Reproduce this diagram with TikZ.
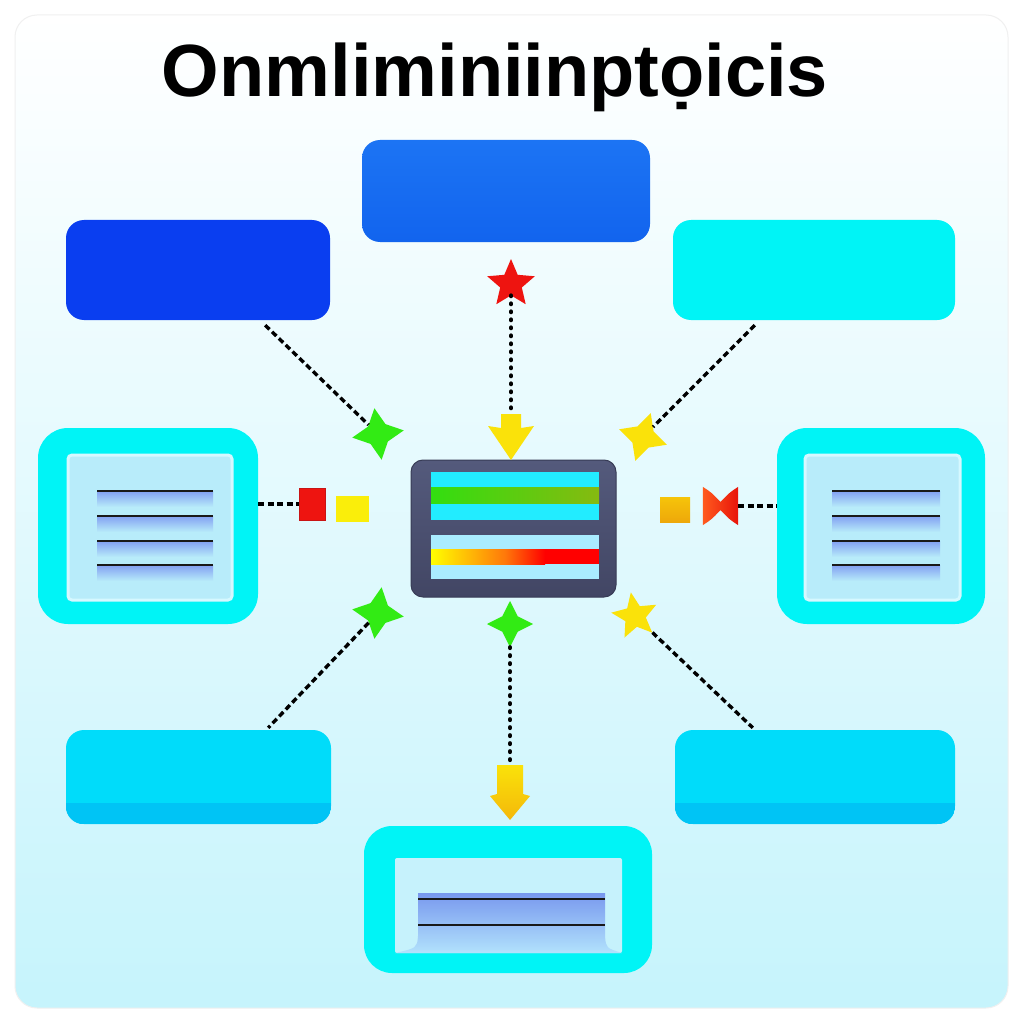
\documentclass[tikz,border=0pt]{standalone}
\usepackage{fontspec}
\setmainfont{Liberation Sans}
\usetikzlibrary{shapes.geometric,calc}

\definecolor{cyanA}{RGB}{0,244,246}
\definecolor{deepblue}{RGB}{10,62,240}
\definecolor{midblueT}{RGB}{28,116,244}
\definecolor{midblueB}{RGB}{18,100,238}
\definecolor{skyA}{RGB}{0,220,250}
\definecolor{skyB}{RGB}{0,196,245}
\definecolor{panel}{RGB}{184,236,250}
\definecolor{panelrim}{RGB}{214,248,255}
\definecolor{slotpanel}{RGB}{198,242,252}
\definecolor{slotT}{RGB}{120,152,238}
\definecolor{slotB}{RGB}{178,226,252}
\definecolor{slateT}{RGB}{84,90,124}
\definecolor{slateB}{RGB}{66,70,100}
\definecolor{slateD}{RGB}{56,60,86}
\definecolor{barcyan}{RGB}{34,236,255}
\definecolor{barlight}{RGB}{170,236,255}
\definecolor{barG}{RGB}{50,222,16}
\definecolor{barO}{RGB}{134,186,16}
\definecolor{barorange}{RGB}{255,120,10}
\definecolor{bgmid}{RGB}{244,252,254}
\definecolor{bgbot}{RGB}{198,244,252}
\definecolor{greenS}{RGB}{50,235,20}
\definecolor{yellowS}{RGB}{250,226,10}
\definecolor{yellowQ}{RGB}{250,238,10}
\definecolor{redS}{RGB}{238,20,16}
\definecolor{redD}{RGB}{200,20,20}
\definecolor{orangeS}{RGB}{244,184,10}
\definecolor{orangeT}{RGB}{246,196,10}
\definecolor{orangeB}{RGB}{238,168,10}
\definecolor{bowL}{RGB}{255,90,30}
\definecolor{bowR}{RGB}{232,20,10}
\definecolor{groove}{RGB}{130,160,242}

\tikzset{
  bigbox/.style={rounded corners=18pt, inner sep=0pt},
  frame/.style={rounded corners=30pt, fill=cyanA, inner sep=0pt},
  panelbox/.style={rounded corners=4pt, fill=panel, draw=panelrim, line width=3pt, inner sep=0pt},
  connector/.style={black, line width=3.4pt, dash pattern=on 6pt off 3.5pt},
  dotline/.style={black, line width=4.6pt, line cap=round, dash pattern=on 0.4pt off 7.6pt},
  fourstar/.style={star, star points=4, star point ratio=2.1, inner sep=0pt, minimum size=#1},
  fivestar/.style={star, star points=5, star point ratio=2.2, inner sep=0pt, minimum size=#1},
  chip/.style={inner sep=0pt}
}

\begin{document}
\begin{tikzpicture}[x=1pt,y=-1pt]
\useasboundingbox (0,0) rectangle (1024,1024);

% page and panel background
\fill[white] (0,0) rectangle (1024,1024);
\shade[rounded corners=22pt, top color=white, middle color=bgmid, bottom color=bgbot] (15,15) rectangle (1008,1008);
\draw[rounded corners=22pt, line width=1pt, gray!12] (15,15) rectangle (1008,1008);

% title
\node[font=\fontsize{74}{82}\selectfont\bfseries, anchor=base, inner sep=0pt] (title) at (495,97) {Onmliminiinptọicis};

% top row boxes
\node[bigbox, top color=midblueT, bottom color=midblueB, minimum width=288pt, minimum height=102pt] (tc) at (506,191) {};
\node[bigbox, fill=deepblue, minimum width=264pt, minimum height=100pt] (tl) at (198,270) {};
\node[bigbox, fill=cyanA, minimum width=282pt, minimum height=100pt] (tr) at (814,270) {};

% bottom row boxes with a darker lower strip
\node[bigbox, fill=skyA, minimum width=265pt, minimum height=94pt] (bl) at (198.5,777) {};
\node[bigbox, fill=skyA, minimum width=280pt, minimum height=94pt] (br) at (815,777) {};
\foreach \b in {bl,br}{
  \begin{scope}
    \clip[rounded corners=18pt] (\b.south west) rectangle (\b.north east);
    \fill[skyB] ($(\b.south west)+(0,-21)$) rectangle (\b.south east);
  \end{scope}
}

% side frames with lined panels
\node[frame, minimum width=220pt, minimum height=196pt] (lm) at (148,526) {};
\node[panelbox, minimum width=164pt, minimum height=145pt] (lp) at (150,527.5) {};
\node[frame, minimum width=208pt, minimum height=196pt] (rm) at (881,526) {};
\node[panelbox, minimum width=155pt, minimum height=145pt] (rp) at (882.5,527.5) {};
\foreach \y in {491,516,541,565}{
  \shade[top color=groove, bottom color=panel] (97,\y) rectangle (213,\y+16);
  \draw[line width=2.6pt, black!90] (97,\y) -- (213,\y);
  \shade[top color=groove, bottom color=panel] (832,\y) rectangle (940,\y+16);
  \draw[line width=2.6pt, black!90] (832,\y) -- (940,\y);
}

% bottom centre frame with recessed slot
\node[frame, rounded corners=28pt, minimum width=288pt, minimum height=147pt] (bc) at (508,899.5) {};
\node[panelbox, rounded corners=2pt, fill=slotpanel, draw=none,
  minimum width=227pt, minimum height=95pt] (bp) at (508.5,905.5) {};
\shade[top color=slotT, bottom color=slotB]
  (418,893) -- (605,893) -- (605,936) .. controls (606,948) .. (622,953) -- (395,953)
  .. controls (417,948) .. (418,936) -- cycle;
\draw[line width=2.6pt, black!90] (418,899) -- (605,899);
\draw[line width=2.6pt, black!90] (418,925) -- (605,925);

% central monitor
\node[rounded corners=12pt, top color=slateT, bottom color=slateB,
  draw=slateD, line width=1pt, minimum width=205pt, minimum height=137pt] (cm) at (513.5,528.5) {};
\fill[barcyan] (431,472) rectangle (599,520);
\shade[left color=barG, right color=barO] (431,487) rectangle (599,503);
\fill[barlight] (431,535) rectangle (599,579);
\shade[left color=yellow, right color=barorange] (431,549) rectangle (505,564);
\shade[left color=barorange, right color=red] (505,549) rectangle (545,564);
\fill[red] (545,549) rectangle (599,564);

% markers
\node[fivestar=50pt, fill=redS] (rs) at (511,284) {};
\node[chip, minimum width=46pt, minimum height=46pt] (ya1) at (511,437) {};
\fill[yellowS] ($(ya1.center)+(-10,-23)$) -- ($(ya1.center)+(10,-23)$) -- ($(ya1.center)+(10,-9)$)
  -- ($(ya1.center)+(23,-11)$) -- ($(ya1.center)+(0,23)$) -- ($(ya1.center)+(-23,-11)$)
  -- ($(ya1.center)+(-10,-9)$) -- cycle;
\node[fourstar=52pt, fill=greenS, shape border rotate=8] (gs1) at (378,434) {};
\node[fourstar=50pt, fill=yellowS, shape border rotate=-18] (ys1) at (643,437) {};
\node[fourstar=52pt, fill=greenS, shape border rotate=-8] (gs2) at (378,613) {};
\node[fourstar=46pt, fill=greenS] (gs3) at (510,624) {};
\node[fivestar=48pt, fill=yellowS, shape border rotate=10] (ys2) at (635,616) {};
\node[chip, minimum width=40pt, minimum height=56pt] (ya2) at (510,792) {};
\shade[top color=yellowS, bottom color=orangeS]
  ($(ya2.center)+(-13,-27)$) -- ($(ya2.center)+(13,-27)$) -- ($(ya2.center)+(13,2)$)
  -- ($(ya2.center)+(20,4)$) -- ($(ya2.center)+(0,28)$) -- ($(ya2.center)+(-20,4)$)
  -- ($(ya2.center)+(-13,2)$) -- cycle;

% small chips beside the side frames
\node[chip, fill=redS, draw=redD, minimum width=26pt, minimum height=32pt] (rsq) at (312,504) {};
\node[chip, fill=yellowQ, minimum width=33pt, minimum height=26pt] (ysq) at (352.5,509) {};
\node[chip, top color=orangeT, bottom color=orangeB, minimum width=30pt, minimum height=25pt] (osq) at (675,509.5) {};
\node[chip, minimum width=35pt, minimum height=38pt] (bow) at (720.5,506) {};
\shade[left color=bowL, right color=bowR]
  (bow.north west) .. controls ($(bow.north west)+(9,6)$) .. ($(bow.center)+(0,-4)$)
  .. controls ($(bow.north east)+(-9,6)$) .. (bow.north east)
  -- (bow.south east) .. controls ($(bow.south east)+(-9,-6)$) .. ($(bow.center)+(0,4)$)
  .. controls ($(bow.south west)+(9,-6)$) .. (bow.south west) -- cycle;

% connectors
\draw[connector] ($(tl.south east)+(-65,5)$) -- (gs1);
\draw[dotline] (rs) -- (ya1);
\draw[connector] ($(tr.south west)+(82,5)$) -- (ys1);
\draw[connector] (lm.east |- rsq.west) -- (rsq.west);
\draw[connector] (bow.east) -- (rm.west |- bow.east);
\draw[connector] (gs2) -- ($(bl.north east)+(-63,-2)$);
\draw[dotline] (gs3) -- (ya2);
\draw[connector] (ys2) -- ($(br.north west)+(78,-2)$);
\end{tikzpicture}
\end{document}
